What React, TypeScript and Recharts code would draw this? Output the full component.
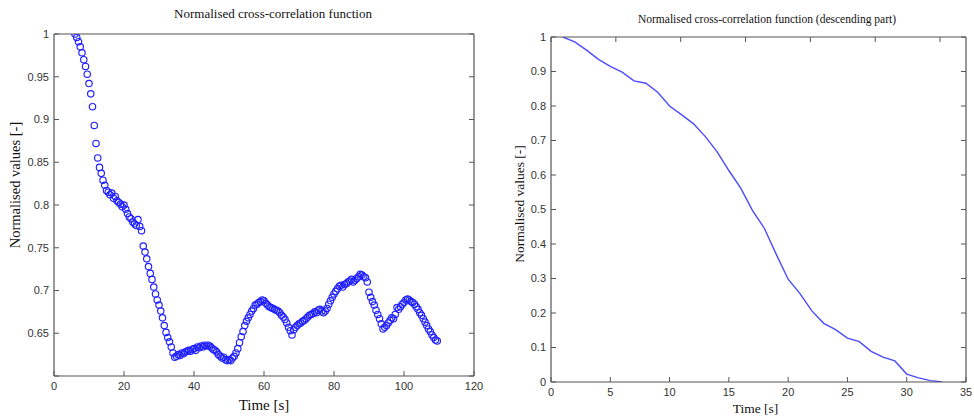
import { ScatterChart, Scatter, LineChart, Line, XAxis, YAxis } from 'recharts';

// left panel: full normalised cross-correlation (scatter, 0.5 s sampling)
const LEFT_TIME = [
  6, 6.5, 7, 7.5, 8, 8.5, 9, 9.5, 10, 10.5,
  11, 11.5, 12, 12.5, 13, 13.5, 14, 14.5, 15, 15.5,
  16, 16.5, 17, 17.5, 18, 18.5, 19, 19.5, 20, 20.5,
  21, 21.5, 22, 22.5, 23, 23.5, 24, 24.5, 25, 25.5,
  26, 26.5, 27, 27.5, 28, 28.5, 29, 29.5, 30, 30.5,
  31, 31.5, 32, 32.5, 33, 33.5, 34, 34.5, 35, 35.5,
  36, 36.5, 37, 37.5, 38, 38.5, 39, 39.5, 40, 40.5,
  41, 41.5, 42, 42.5, 43, 43.5, 44, 44.5, 45, 45.5,
  46, 46.5, 47, 47.5, 48, 48.5, 49, 49.5, 50, 50.5,
  51, 51.5, 52, 52.5, 53, 53.5, 54, 54.5, 55, 55.5,
  56, 56.5, 57, 57.5, 58, 58.5, 59, 59.5, 60, 60.5,
  61, 61.5, 62, 62.5, 63, 63.5, 64, 64.5, 65, 65.5,
  66, 66.5, 67, 67.5, 68, 68.5, 69, 69.5, 70, 70.5,
  71, 71.5, 72, 72.5, 73, 73.5, 74, 74.5, 75, 75.5,
  76, 76.5, 77, 77.5, 78, 78.5, 79, 79.5, 80, 80.5,
  81, 81.5, 82, 82.5, 83, 83.5, 84, 84.5, 85, 85.5,
  86, 86.5, 87, 87.5, 88, 88.5, 89, 89.5, 90, 90.5,
  91, 91.5, 92, 92.5, 93, 93.5, 94, 94.5, 95, 95.5,
  96, 96.5, 97, 97.5, 98, 98.5, 99, 99.5, 100, 100.5,
  101, 101.5, 102, 102.5, 103, 103.5, 104, 104.5, 105, 105.5,
  106, 106.5, 107, 107.5, 108, 108.5, 109, 109.5,
];
const LEFT_VALUES = [
  1.0, 0.996, 0.991, 0.985, 0.978, 0.97, 0.962, 0.953, 0.942, 0.93,
  0.915, 0.893, 0.872, 0.855, 0.844, 0.837, 0.829, 0.823, 0.817, 0.815,
  0.812, 0.814, 0.808, 0.81, 0.805, 0.803, 0.801, 0.798, 0.8, 0.795,
  0.79, 0.786, 0.784, 0.78, 0.778, 0.776, 0.783, 0.775, 0.77, 0.752,
  0.745, 0.737, 0.728, 0.72, 0.713, 0.704, 0.696, 0.689, 0.683, 0.676,
  0.668, 0.659, 0.651, 0.645, 0.64, 0.634, 0.627, 0.622, 0.623, 0.625,
  0.624, 0.627, 0.626, 0.628, 0.629, 0.63, 0.629, 0.631, 0.632, 0.63,
  0.634, 0.633, 0.635, 0.634, 0.636, 0.635, 0.636, 0.635, 0.633, 0.631,
  0.63, 0.628, 0.625, 0.623, 0.621, 0.622, 0.619, 0.618, 0.619, 0.618,
  0.621, 0.623, 0.627, 0.632, 0.639, 0.646, 0.652, 0.659, 0.664, 0.668,
  0.672, 0.676, 0.679, 0.683, 0.684, 0.686, 0.687, 0.689, 0.688, 0.685,
  0.683, 0.681, 0.68, 0.679, 0.678, 0.677, 0.676, 0.674, 0.671, 0.669,
  0.666, 0.662, 0.657, 0.653, 0.648, 0.654, 0.657, 0.659, 0.661, 0.662,
  0.664, 0.665, 0.667, 0.669, 0.671, 0.672, 0.673, 0.675, 0.674, 0.677,
  0.678, 0.676, 0.674, 0.676, 0.679, 0.684, 0.688, 0.692, 0.696, 0.699,
  0.702, 0.705, 0.706, 0.704, 0.707, 0.708, 0.71, 0.711, 0.713, 0.71,
  0.712, 0.714, 0.716, 0.719, 0.718, 0.716, 0.715, 0.71, 0.698, 0.692,
  0.687, 0.683, 0.677, 0.672, 0.667, 0.661, 0.655, 0.657, 0.659, 0.662,
  0.665, 0.668, 0.667, 0.672, 0.68, 0.678, 0.681, 0.684, 0.686, 0.689,
  0.69, 0.689, 0.687, 0.686, 0.684, 0.681, 0.678, 0.674, 0.671, 0.667,
  0.663, 0.659, 0.655, 0.652, 0.648, 0.645, 0.642, 0.641,
];
const LEFT_X_TICKS = [0, 20, 40, 60, 80, 100, 120];
const LEFT_Y_TICKS = [0.6, 0.65, 0.7, 0.75, 0.8, 0.85, 0.9, 0.95, 1];

// right panel: descending part (line, 1 s sampling)
const RIGHT_TIME = [1, 2, 3, 4, 5, 6, 7, 8, 9, 10, 11, 12, 13, 14, 15, 16, 17, 18, 19, 20, 21, 22, 23, 24, 25, 26, 27, 28, 29, 30, 31, 32, 33];
const RIGHT_VALUES = [
  1.0, 0.986, 0.962, 0.935, 0.915, 0.898, 0.873, 0.866, 0.84, 0.8,
  0.775, 0.749, 0.712, 0.668, 0.613, 0.562, 0.497, 0.445, 0.37, 0.298,
  0.256, 0.206, 0.17, 0.152, 0.127, 0.117, 0.089, 0.072, 0.061, 0.023,
  0.012, 0.004, 0.0,
];
const RIGHT_X_TICKS = [0, 5, 10, 15, 20, 25, 30, 35];
const RIGHT_Y_TICKS = [0, 0.1, 0.2, 0.3, 0.4, 0.5, 0.6, 0.7, 0.8, 0.9, 1];

const leftData = LEFT_TIME.map((t, i) => ({ t, v: LEFT_VALUES[i] }));
const rightData = RIGHT_TIME.map((t, i) => ({ t, v: RIGHT_VALUES[i] }));

const AXIS = '#555';
const SANS = '"Liberation Sans", Arial, sans-serif';
const SERIF = '"Liberation Serif", "Times New Roman", serif';
const TICK_LEN = 5;
const AXIS_LINE = { stroke: AXIS, strokeWidth: 1.2 };
const FS = 11;

// MATLAB-like inward ticks; labels only on bottom/left edges
function BottomTick(props: any) {
  const { x, y, payload } = props;
  return (
    <g>
      <line x1={x} y1={y} x2={x} y2={y - TICK_LEN} stroke={AXIS} strokeWidth={1} />
      <text x={x} y={y + FS + 3} textAnchor="middle" fontSize={FS} fontFamily={SANS} fill="#333">{payload.value}</text>
    </g>
  );
}
function TopTick(props: any) {
  const { x, y } = props;
  return <line x1={x} y1={y} x2={x} y2={y + TICK_LEN} stroke={AXIS} strokeWidth={1} />;
}
function LeftTick(props: any) {
  const { x, y, payload } = props;
  return (
    <g>
      <line x1={x} y1={y} x2={x + TICK_LEN} y2={y} stroke={AXIS} strokeWidth={1} />
      <text x={x - 5} y={y + FS * 0.36} textAnchor="end" fontSize={FS} fontFamily={SANS} fill="#333">{payload.value}</text>
    </g>
  );
}
// left panel hides the 0.6 label at the bottom corner
function LeftTickNoFirst(props: any) {
  const { x, y, payload } = props;
  return (
    <g>
      <line x1={x} y1={y} x2={x + TICK_LEN} y2={y} stroke={AXIS} strokeWidth={1} />
      {payload.value !== 0.6 && (
        <text x={x - 5} y={y + FS * 0.36} textAnchor="end" fontSize={FS} fontFamily={SANS} fill="#333">{payload.value}</text>
      )}
    </g>
  );
}
function RightTick(props: any) {
  const { x, y } = props;
  return <line x1={x} y1={y} x2={x - TICK_LEN} y2={y} stroke={AXIS} strokeWidth={1} />;
}

function LeftXLabel({ viewBox }: any) {
  return (
    <text x={viewBox.x + viewBox.width / 2} y={viewBox.y + 34} textAnchor="middle" fontFamily={SERIF} fontSize={15} fill="#111">Time [s]</text>
  );
}
function RightXLabel({ viewBox }: any) {
  return (
    <text x={viewBox.x + viewBox.width / 2 - 3} y={viewBox.y + 31} textAnchor="middle" fontFamily={SERIF} fontSize={13.5} fill="#111">Time [s]</text>
  );
}
const LEFT_X_LABEL = { content: LeftXLabel };
const RIGHT_X_LABEL = { content: RightXLabel };

function HollowCircle(props: any) {
  const { cx, cy } = props;
  if (cx == null || cy == null) return <g />;
  return <circle cx={cx} cy={cy} r={3.2} fill="none" stroke="#1f1fff" strokeWidth={1.15} />;
}

function LeftPanel() {
  return (
    <div style={{ position: 'absolute', left: 0, top: 0, width: 487, height: 416 }}>
      <ScatterChart width={487} height={416} margin={{ top: 33, right: 12, bottom: 0, left: 4 }}>
        <XAxis
          xAxisId="b" dataKey="t" type="number" domain={[0, 120]} ticks={LEFT_X_TICKS} interval={0}
          height={40} tickSize={0} tickMargin={0} axisLine={AXIS_LINE} tick={BottomTick} label={LEFT_X_LABEL}
        />
        <XAxis
          xAxisId="t" orientation="top" type="number" domain={[0, 120]} ticks={LEFT_X_TICKS} interval={0}
          height={1} tickSize={0} tickMargin={0} axisLine={AXIS_LINE} tick={TopTick} allowDataOverflow
        />
        <YAxis
          yAxisId="l" dataKey="v" type="number" domain={[0.6, 1]} ticks={LEFT_Y_TICKS} interval={0}
          width={50} tickSize={0} tickMargin={0} axisLine={AXIS_LINE} tick={LeftTickNoFirst} allowDataOverflow
        />
        <YAxis
          yAxisId="r" orientation="right" type="number" domain={[0.6, 1]} ticks={LEFT_Y_TICKS} interval={0}
          width={1} tickSize={0} tickMargin={0} axisLine={AXIS_LINE} tick={RightTick} allowDataOverflow
        />
        <Scatter xAxisId="b" yAxisId="l" data={leftData} shape={HollowCircle} isAnimationActive={false} />
      </ScatterChart>
      <div style={{ position: 'absolute', left: 0, width: 546, top: 6, textAlign: 'center', fontFamily: SERIF, fontSize: 13, color: '#111', pointerEvents: 'none' }}>
        Normalised cross-correlation function
      </div>
      <div style={{ position: 'absolute', left: 15, top: 185, width: 0, height: 0 }}>
        <div style={{ position: 'absolute', transform: 'translate(-50%, -50%) rotate(-90deg)', whiteSpace: 'nowrap', fontFamily: SERIF, fontSize: 14.5, color: '#111' }}>
          Normalised values [-]
        </div>
      </div>
    </div>
  );
}

function RightPanel() {
  return (
    <div style={{ position: 'absolute', left: 487, top: 0, width: 487, height: 416 }}>
      <LineChart width={487} height={416} data={rightData} margin={{ top: 36, right: 7, bottom: 0, left: 14 }}>
        <XAxis
          xAxisId="b" dataKey="t" type="number" domain={[0, 35]} ticks={RIGHT_X_TICKS} interval={0}
          height={34} tickSize={0} tickMargin={0} axisLine={AXIS_LINE} tick={BottomTick} label={RIGHT_X_LABEL}
        />
        <XAxis
          xAxisId="t" orientation="top" type="number" domain={[0, 35]} ticks={RIGHT_X_TICKS} interval={0}
          height={1} tickSize={0} tickMargin={0} axisLine={AXIS_LINE} tick={TopTick} allowDataOverflow
        />
        <YAxis
          yAxisId="l" type="number" domain={[0, 1]} ticks={RIGHT_Y_TICKS} interval={0}
          width={50} tickSize={0} tickMargin={0} axisLine={AXIS_LINE} tick={LeftTick} allowDataOverflow
        />
        <YAxis
          yAxisId="r" orientation="right" type="number" domain={[0, 1]} ticks={RIGHT_Y_TICKS} interval={0}
          width={1} tickSize={0} tickMargin={0} axisLine={AXIS_LINE} tick={RightTick} allowDataOverflow
        />
        <Line
          xAxisId="b" yAxisId="l" dataKey="v" type="linear" stroke="#4b4bff" strokeWidth={1.4}
          dot={false} isAnimationActive={false}
        />
      </LineChart>
      <div style={{ position: 'absolute', left: 0, width: 560, top: 13, textAlign: 'center', fontFamily: SERIF, fontSize: 11.5, color: '#111', pointerEvents: 'none' }}>
        Normalised cross-correlation function (descending part)
      </div>
      <div style={{ position: 'absolute', left: 33, top: 204, width: 0, height: 0 }}>
        <div style={{ position: 'absolute', transform: 'translate(-50%, -50%) rotate(-90deg)', whiteSpace: 'nowrap', fontFamily: SERIF, fontSize: 13.5, color: '#111' }}>
          Normalised values [-]
        </div>
      </div>
    </div>
  );
}

export default function App() {
  return (
    <div style={{ position: 'absolute', left: 0, top: 0, width: 974, height: 416 }}>
      <LeftPanel />
      <RightPanel />
    </div>
  );
}
